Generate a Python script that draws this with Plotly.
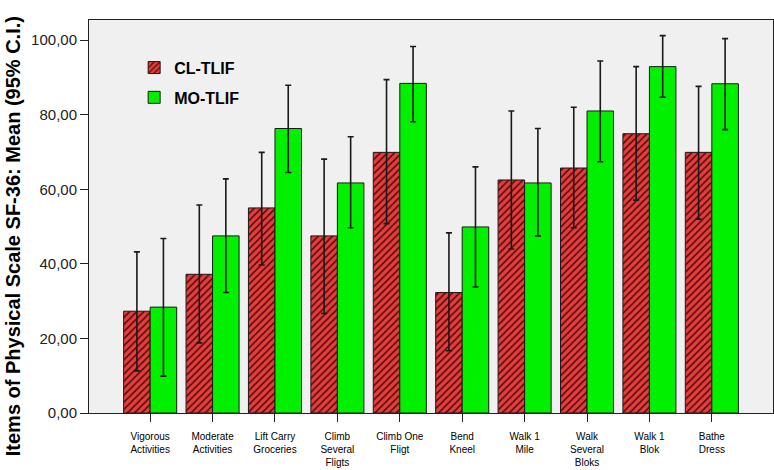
import plotly.graph_objects as go

categories = ["Vigorous<br>Activities", "Moderate<br>Activities", "Lift Carry<br>Groceries",
              "Climb<br>Several<br>Fligts", "Climb One<br>Fligt", "Bend<br>Kneel",
              "Walk 1<br>Mile", "Walk<br>Several<br>Bloks", "Walk 1<br>Blok", "Bathe<br>Dress"]

cl_mean = [27.3, 37.2, 55.0, 47.5, 69.9, 32.3, 62.5, 65.7, 74.9, 69.9]
cl_low = [11.3, 18.8, 39.7, 26.7, 50.8, 16.7, 44.0, 49.7, 57.1, 52.0]
cl_high = [43.2, 55.8, 69.9, 68.1, 89.4, 48.3, 81.0, 82.0, 92.9, 87.6]

mo_mean = [28.4, 47.5, 76.3, 61.7, 88.4, 49.9, 61.7, 81.0, 92.9, 88.3]
mo_low = [9.9, 32.3, 64.5, 49.7, 78.1, 33.8, 47.5, 67.4, 84.7, 76.0]
mo_high = [46.8, 62.8, 87.9, 74.1, 98.3, 66.0, 76.3, 94.4, 101.2, 100.4]

y_ticks = [0, 20, 40, 60, 80, 100]


def err(mean, low, high):
    return dict(type="data", symmetric=False,
                array=[h - m for m, h in zip(mean, high)],
                arrayminus=[m - l for m, l in zip(mean, low)],
                color="#1a1a1a", thickness=1.6, width=3)


fig = go.Figure()
fig.add_trace(go.Bar(
    name="CL-TLIF", x=categories, y=cl_mean, legendgroup="cl",
    marker=dict(color="#E63C3C",
                line=dict(color="#1a1a1a", width=1),
                pattern=dict(shape="/", fgcolor="#4a0c0c", bgcolor="#E63C3C",
                             size=5, solidity=0.3, fillmode="replace")),
    error_y=err(cl_mean, cl_low, cl_high),
))
fig.add_trace(go.Bar(
    name="MO-TLIF", x=categories, y=mo_mean, legendgroup="mo",
    marker=dict(color="#00F000", line=dict(color="#1a1a1a", width=1)),
    error_y=err(mo_mean, mo_low, mo_high),
))

fig.update_layout(
    width=774, height=470,
    margin=dict(l=89, r=1, t=20, b=57),
    paper_bgcolor="white",
    plot_bgcolor="#F0F0F0",
    barmode="group", bargap=0.15, bargroupgap=0.0,
    separators=",.",
    font=dict(family="Liberation Sans, Arial, sans-serif", color="black"),
    showlegend=True,
    legend=dict(x=0.066, y=0.922, xanchor="left", yanchor="top",
                bgcolor="rgba(0,0,0,0)",
                font=dict(size=16, weight="bold", color="black"),
                itemwidth=30, tracegroupgap=6),
    annotations=[dict(
        text="Items of Physical Scale SF-36: Mean (95% C.I.)",
        xref="paper", yref="paper", x=-0.111, y=0.45,
        xanchor="center", yanchor="middle", textangle=-90, showarrow=False,
        font=dict(size=20, weight="bold", color="black",
                  family="Liberation Sans, Arial, sans-serif"))],
)

fig.update_xaxes(
    range=[-0.98, 9.98], showgrid=False,
    showline=True, linecolor="#222", linewidth=1, mirror=True,
    ticks="outside", ticklen=8, tickcolor="#222", ticklabelstandoff=6,
    tickfont=dict(size=10, color="black"), tickangle=0,
)
fig.update_yaxes(
    range=[0, 105.4], tickvals=y_ticks, tickformat=".2f",
    showgrid=False, zeroline=False,
    showline=True, linecolor="#222", linewidth=1, mirror=True,
    ticks="outside", ticklen=8, tickcolor="#222",
    tickfont=dict(size=15, color="#222"),
)

fig.write_html("out.html", config={"displayModeBar": False},
               post_script="document.body.style.margin='0';document.body.style.overflow='hidden';")
